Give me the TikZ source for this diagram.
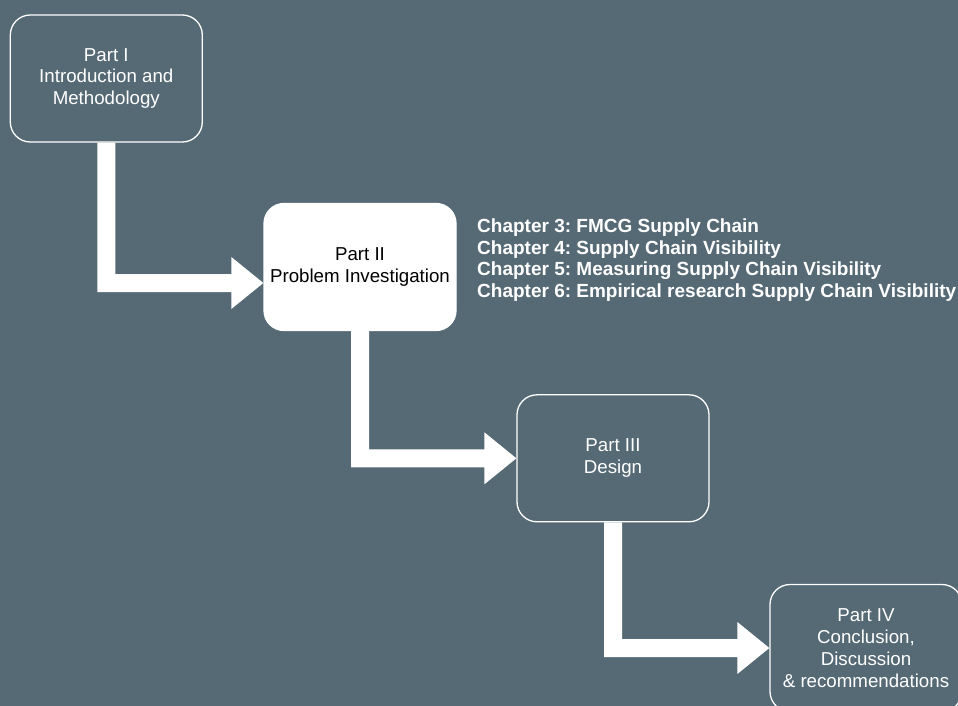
\documentclass[tikz,border=0pt]{standalone}
\usepackage{fontspec}
\setmainfont{Liberation Sans}
\usetikzlibrary{calc}
\definecolor{slate}{HTML}{566A75}
\frenchspacing
\begin{document}
\begin{tikzpicture}[x=1pt,y=-1pt,
  partbox/.style={draw=white, line width=1.3pt, rounded corners=20pt,
    minimum width=192pt, minimum height=127pt, align=center,
    font=\fontsize{18.7}{21.8}\selectfont, inner sep=2pt},
  openbox/.style={partbox, fill=slate, text=white},
  solidbox/.style={partbox, fill=white, text=black},
  flow/.style={fill=white, draw=none},
  chapters/.style={anchor=west, align=left, inner sep=0pt, text=white,
    font=\fontsize{19}{21.5}\selectfont\bfseries}]
\path[use as bounding box] (0,0) rectangle (958,706);
\clip (0,0) rectangle (958,706);
\fill[slate] (0,0) rectangle (958,706);

% the four parts
\node[openbox]  (p1) at (106.3,78.5) {Part I\\Introduction and\\Methodology};
\node[solidbox] (p2) at (360,267)    {Part II\\Problem Investigation};
\node[openbox]  (p3) at (613,458.3)  {Part III\\Design};
\node[openbox]  (p4) at (866,648)    {Part IV\\Conclusion,\\Discussion\\\& recommendations};

% chapters belonging to part II
\node[chapters] (ch) at (477,260) {Chapter 3: FMCG Supply Chain\\
Chapter 4: Supply Chain Visibility\\
Chapter 5: Measuring Supply Chain Visibility\\
Chapter 6: Empirical research Supply Chain Visibility};

% arrow tips
\coordinate (t1) at ($(p2.west)+(0,16)$);
\coordinate (t2) at (p3.west);
\coordinate (t3) at (p4.west);

% elbow block arrows: down from one part, right into the next
\fill[flow] ($(p1.south)+(-9,0)$) |- ($(t1)+(-32,9)$) -- ($(t1)+(-32,26)$) -- (t1)
  -- ($(t1)+(-32,-26)$) -- ($(t1)+(-32,-9)$) -| ($(p1.south)+(9,0)$) -- cycle;
\fill[flow] ($(p2.south)+(-9,0)$) |- ($(t2)+(-32,9)$) -- ($(t2)+(-32,26)$) -- (t2)
  -- ($(t2)+(-32,-26)$) -- ($(t2)+(-32,-9)$) -| ($(p2.south)+(9,0)$) -- cycle;
\fill[flow] ($(p3.south)+(-9,0)$) |- ($(t3)+(-32,9)$) -- ($(t3)+(-32,26)$) -- (t3)
  -- ($(t3)+(-32,-26)$) -- ($(t3)+(-32,-9)$) -| ($(p3.south)+(9,0)$) -- cycle;
\end{tikzpicture}
\end{document}
